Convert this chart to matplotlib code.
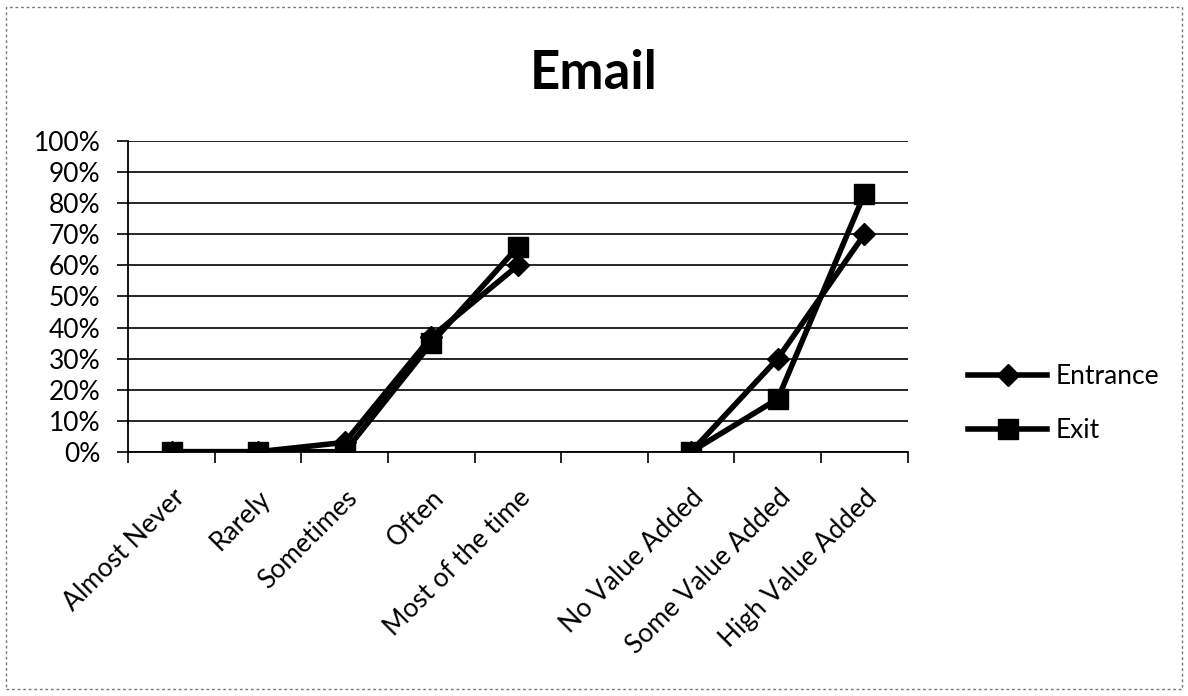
import numpy as np
import matplotlib.pyplot as plt
from matplotlib.patches import Rectangle

# --- data ---
categories = ["Almost Never", "Rarely", "Sometimes", "Often", "Most of the time", "",
              "No Value Added", "Some Value Added", "High Value Added"]
entrance = [0, 0, 3, 37, 60, np.nan, 0, 30, 70]
exit_ = [0, 0, 0, 35, 66, np.nan, 0, 17, 83]

plt.rcParams['font.family'] = ['Lato', 'DejaVu Sans']

fig = plt.figure(figsize=(11.88, 6.96), dpi=100)
ax = fig.add_axes([0.108, 0.351, 0.656, 0.446])

x = np.arange(len(categories))
ax.plot(x, entrance, color='black', lw=4, marker='D', markersize=11, label='Entrance')
ax.plot(x, exit_, color='black', lw=4, marker='s', markersize=15, label='Exit')

ax.set_xlim(-0.5, len(categories) - 0.5)
ax.set_ylim(0, 100)
ax.set_yticks(range(0, 101, 10))
ax.set_yticklabels([f"{v}%" for v in range(0, 101, 10)], fontsize=19)
ax.yaxis.grid(True, color='black', lw=1.2)
ax.set_axisbelow(True)

# category labels centered, tick marks on boundaries
ax.set_xticks(x)
ax.set_xticklabels(categories, rotation=45, ha='right', rotation_mode='anchor', fontsize=19)
ax.tick_params(axis='x', length=0, pad=24)
ax.set_xticks(np.arange(-0.5, len(categories) + 0.5, 1), minor=True)
ax.tick_params(axis='x', which='minor', length=8, width=1.2, direction='out')
ax.tick_params(axis='y', length=8, width=1.2, direction='out', pad=12)

for s in ['top', 'right']:
    ax.spines[s].set_visible(False)
for s in ['left', 'bottom']:
    ax.spines[s].set_linewidth(1.3)

fig.text(0.5, 0.895, "Email", ha='center', va='center', fontsize=38, fontweight='bold')

ax.legend(loc='center left', bbox_to_anchor=(0.795, 0.42), bbox_transform=fig.transFigure,
          frameon=False, fontsize=19, handlelength=3.0, labelspacing=1.1, handletextpad=0.3)

# chart border
fig.patches.append(Rectangle((0.005, 0.01), 0.99, 0.98, transform=fig.transFigure,
                             fill=False, edgecolor='#777777', lw=1, ls=(0, (2, 2))))

fig.savefig("out.png", dpi=100)
